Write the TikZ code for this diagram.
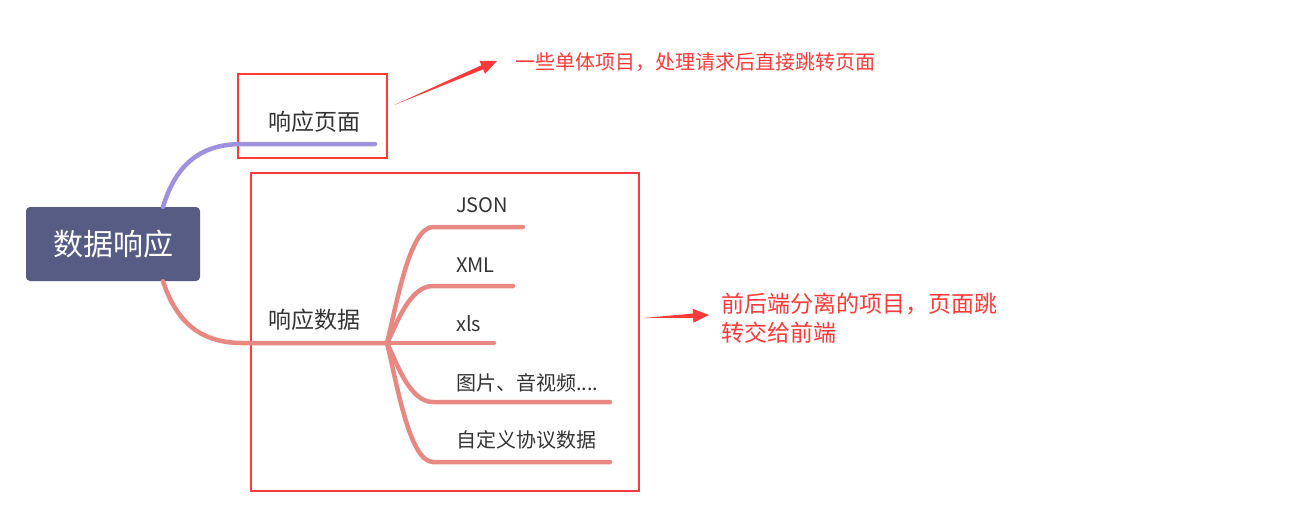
\documentclass[tikz,border=0pt]{standalone}
\usepackage{fontspec}
\setmainfont{Noto Sans CJK SC}
\usetikzlibrary{calc}
\definecolor{rootfill}{RGB}{86,92,132}
\definecolor{purp}{RGB}{160,145,222}
\definecolor{pinkb}{RGB}{232,136,130}
\definecolor{redm}{RGB}{255,58,58}
\definecolor{txt}{RGB}{51,51,51}
\tikzset{
  rootbox/.style={fill=rootfill, rounded corners=4pt, minimum width=174pt, minimum height=74pt, inner sep=0pt, text=white, font=\fontsize{30}{34}\selectfont},
  lab/.style={anchor=west, inner sep=0pt, text=txt, font=\fontsize{23}{27}\selectfont},
  child/.style={anchor=west, inner sep=0pt, text=txt, font=\fontsize{20}{24}\selectfont},
  redbox/.style={draw=redm, line width=2.5pt, inner sep=0pt},
  note/.style={anchor=west, inner sep=0pt, text=redm, align=left},
  pbranch/.style={draw=purp, line width=4.5pt, line cap=round},
  kbranch/.style={draw=pinkb, line width=4.5pt, line cap=round},
}
\newcommand{\taparrow}[2]{%
  \fill[redm] (#1) -- ($(#2)!16pt!(#1)!2.2pt!90:(#2)$) -- ($(#2)!16pt!(#1)!7pt!90:(#2)$) -- (#2)
     -- ($(#2)!16pt!(#1)!7pt!-90:(#2)$) -- ($(#2)!16pt!(#1)!2.2pt!-90:(#2)$) -- cycle;}
\begin{document}
\begin{tikzpicture}[x=1pt,y=-1pt]
\useasboundingbox (0,0) rectangle (1289,504);
% boxes
\node[redbox, minimum width=149pt, minimum height=84pt] (box1) at (312.5,116) {};
\node[redbox, minimum width=388pt, minimum height=318pt] (box2) at (445,332) {};
% root
\node[rootbox] (root) at (113,244) {数据响应};
% labels
\node[lab] (page) at (268,122) {响应页面};
\node[lab] (data) at (268,320) {响应数据};
% branches
\coordinate (rt) at ($(root.north)+(50,0)$);
\coordinate (rb) at ($(root.south)+(50,0)$);
\coordinate (hub) at (387,343);
\path[pbranch] (rt) .. controls (175,168) and (197,144) .. (242,144) -- (375,144);
\path[kbranch] (rb) .. controls (175,318) and (197,343) .. (242,343) -- (hub);
% children
\foreach \nm/\yy/\xe/\tx in {json/227/523/JSON, xml/286/513/XML, xls/343/494/xls, media/402/610/{图片、音视频....}, custom/462/610/自定义协议数据}{
  \coordinate (\nm e) at (\xe,\yy);
  \path[kbranch] (hub) .. controls ($(hub)!0.3!(hub|-\nm e)+(9,0)$) and ($(433,\yy)+(-24,0)$) .. (433,\yy) -- (\nm e);
}
\node[child] (json) at (456,205) {JSON};
\node[child] (xml) at (456,265) {XML};
\node[child] (xls) at (456,324) {xls};
\node[child] (media) at (456,383) {图片、音视频....};
\node[child] (custom) at (456,440) {自定义协议数据};
% notes
\node[note, font=\fontsize{20}{24}\selectfont] (note1) at (515,62) {一些单体项目，处理请求后直接跳转页面};
\node[note, font=\fontsize{23}{29}\selectfont] (note2) at (721,318) {前后端分离的项目，页面跳\\转交给前端};
% arrows
\coordinate (a1t) at ($(box1.east)+(6,-11)$);
\coordinate (a1h) at ($(note1.west)+(-18,-1)$);
\taparrow{a1t}{a1h}
\coordinate (a2t) at ($(box2.east)+(3,-14)$);
\coordinate (a2h) at ($(note2.west)+(-12,-3)$);
\taparrow{a2t}{a2h}
\end{tikzpicture}
\end{document}
